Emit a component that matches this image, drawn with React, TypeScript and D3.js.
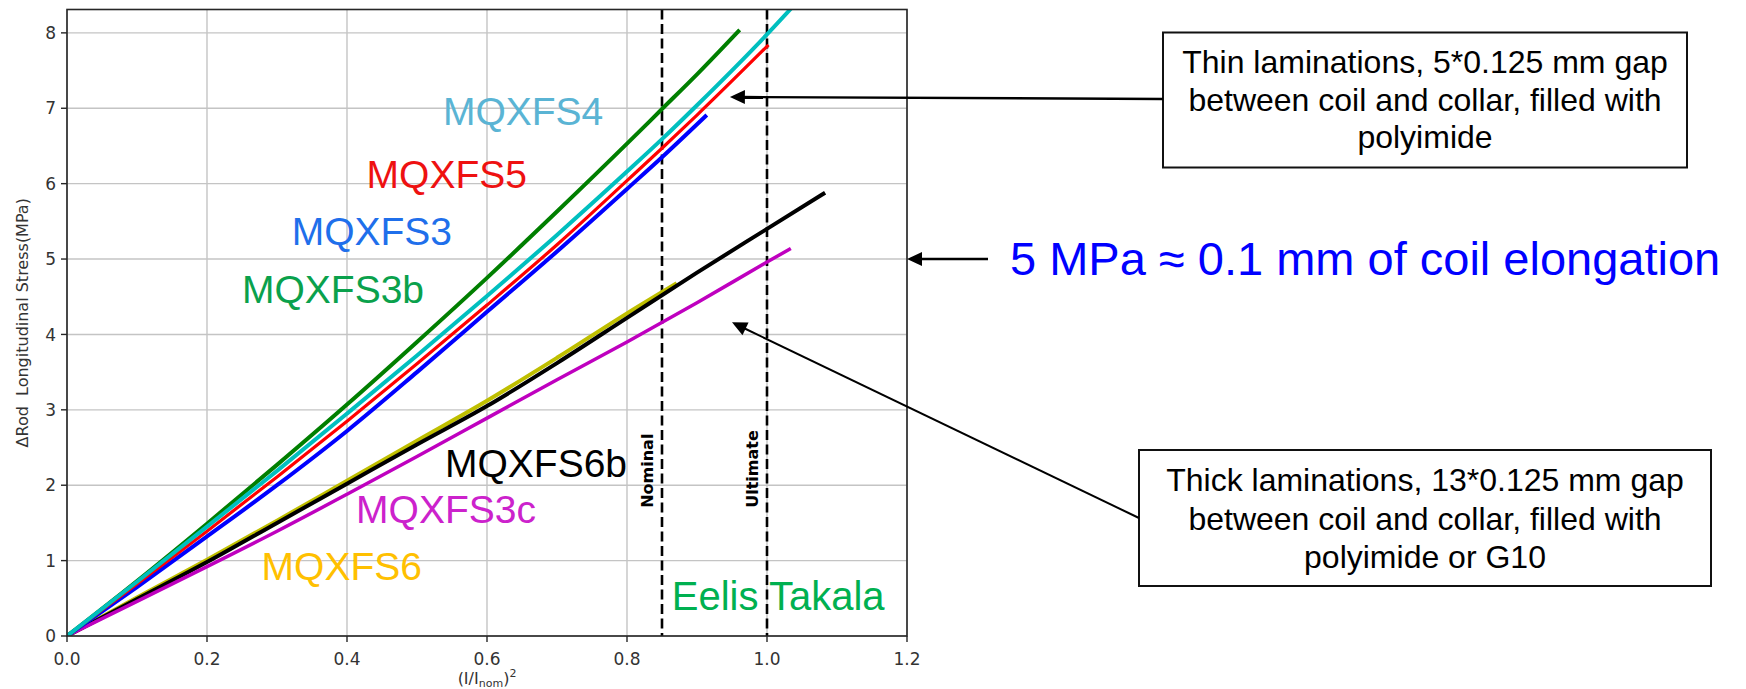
import * as d3 from "d3";

// ---- data ----
const xTicks = [0, 0.2, 0.4, 0.6, 0.8, 1.0, 1.2];
const yTicks = [0, 1, 2, 3, 4, 5, 6, 7, 8];

const s3bX = [0, 0.1, 0.2, 0.3, 0.4, 0.5, 0.6, 0.7, 0.8, 0.85, 0.9, 0.961];
const s3bY = [0, 0.73, 1.49, 2.27, 3.07, 3.9, 4.75, 5.63, 6.53, 6.99, 7.45, 8.04];

const s4X = [0, 0.1, 0.2, 0.3, 0.4, 0.5, 0.6, 0.7, 0.8, 0.85, 0.9, 1.0, 1.04];
const s4Y = [0, 0.72, 1.45, 2.19, 2.95, 3.72, 4.51, 5.32, 6.16, 6.59, 7.04, 7.98, 8.38];

const s5X = [0, 0.1, 0.2, 0.3, 0.4, 0.5, 0.6, 0.7, 0.8, 0.85, 0.9, 1.002];
const s5Y = [0, 0.69, 1.39, 2.11, 2.85, 3.61, 4.39, 5.19, 6.04, 6.47, 6.91, 7.84];

const s3X = [0, 0.1, 0.2, 0.3, 0.4, 0.5, 0.6, 0.7, 0.8, 0.85, 0.914];
const s3Y = [0, 0.65, 1.32, 2.0, 2.72, 3.5, 4.3, 5.1, 5.93, 6.35, 6.91];

const s6X = [0, 0.1, 0.2, 0.3, 0.4, 0.5, 0.6, 0.7, 0.8, 0.871];
const s6Y = [0, 0.51, 1.01, 1.53, 2.06, 2.59, 3.12, 3.69, 4.28, 4.68];

const s6bX = [0, 0.1, 0.2, 0.3, 0.4, 0.5, 0.6, 0.7, 0.8, 0.9, 1.0, 1.083];
const s6bY = [0, 0.49, 0.98, 1.5, 2.02, 2.54, 3.05, 3.62, 4.22, 4.82, 5.4, 5.88];

const s3cX = [0, 0.1, 0.2, 0.3, 0.4, 0.5, 0.6, 0.7, 0.8, 0.9, 1.0, 1.034];
const s3cY = [0, 0.46, 0.92, 1.39, 1.88, 2.38, 2.89, 3.4, 3.9, 4.42, 4.96, 5.14];

// label text + where it sits (data units)
const labelNames = ["MQXFS4", "MQXFS5", "MQXFS3", "MQXFS3b", "MQXFS6b", "MQXFS3c", "MQXFS6"];
const labelX = [0.537, 0.428, 0.321, 0.25, 0.54, 0.413, 0.278];
const labelY = [6.78, 5.94, 5.19, 4.42, 2.11, 1.5, 0.74];
const labelColors = ["#5ab4d4", "#ee1111", "#1f6feb", "#0aa14c", "#000000", "#cc22cc", "#ffc000"];

const markerX = [0.85, 1.0];
const markerNames = ["Nominal", "Ultimate"];

const box1Lines = ["Thin laminations, 5*0.125 mm gap", "between coil and collar, filled with", "polyimide"];
const box2Lines = ["Thick laminations, 13*0.125 mm gap", "between coil and collar, filled with", "polyimide or G10"];

const W = 1746, H = 689;
const plot = { left: 67, right: 907, top: 9.5, bottom: 636 };

const x = d3.scaleLinear().domain([0, 1.2]).range([plot.left, plot.right]);
const y = d3.scaleLinear().domain([0, 8.31]).range([plot.bottom, plot.top]);

const series = [
  { xs: s6X, ys: s6Y, color: "#bfbf00", w: 4 },
  { xs: s6bX, ys: s6bY, color: "#000000", w: 4 },
  { xs: s3cX, ys: s3cY, color: "#bf00bf", w: 3.5 },
  { xs: s3X, ys: s3Y, color: "#0000ff", w: 4 },
  { xs: s5X, ys: s5Y, color: "#ff0000", w: 3.2 },
  { xs: s3bX, ys: s3bY, color: "#007f00", w: 4 },
  { xs: s4X, ys: s4Y, color: "#00bfbf", w: 4 },
];

const line = d3.line<number[]>().x(d => x(d[0])).y(d => y(d[1])).curve(d3.curveMonotoneX);

function Arrow({ x1, y1, x2, y2, sw = 2.4 }: any) {
  const a = Math.atan2(y2 - y1, x2 - x1);
  const len = 15, half = 7;
  const bx = x2 - len * Math.cos(a), by = y2 - len * Math.sin(a);
  const p = [
    [x2, y2],
    [bx + half * Math.sin(a), by - half * Math.cos(a)],
    [bx - half * Math.sin(a), by + half * Math.cos(a)],
  ];
  return (
    <g>
      <line x1={x1} y1={y1} x2={bx + 2 * Math.cos(a)} y2={by + 2 * Math.sin(a)} stroke="#000" strokeWidth={sw} />
      <polygon points={p.map(q => q.join(",")).join(" ")} fill="#000" />
    </g>
  );
}

export default function App() {
  const sans = "'DejaVu Sans', sans-serif";
  const arial = "'Liberation Sans', Arial, sans-serif";
  return (
    <div style={{ position: "absolute", left: 0, top: 0 }}>
      <svg width={W} height={H} style={{ display: "block", background: "#fff" }}>
        <defs>
          <clipPath id="plotclip">
            <rect x={plot.left} y={plot.top} width={plot.right - plot.left} height={plot.bottom - plot.top} />
          </clipPath>
        </defs>

        {/* grid */}
        {xTicks.map(t => (
          <line key={"gx" + t} x1={x(t)} x2={x(t)} y1={plot.top} y2={plot.bottom} stroke="#c4c4c4" strokeWidth={1.4} />
        ))}
        {yTicks.map(t => (
          <line key={"gy" + t} x1={plot.left} x2={plot.right} y1={y(t)} y2={y(t)} stroke="#c4c4c4" strokeWidth={1.4} />
        ))}

        {/* nominal / ultimate */}
        {markerX.map((m, i) => (
          <g key={"m" + i}>
            <line x1={x(m)} x2={x(m)} y1={plot.top} y2={plot.bottom} stroke="#000" strokeWidth={2.6} strokeDasharray="10,4.5" />
            <text transform={`translate(${x(m) - 9},${y(1.7)}) rotate(-90)`} fontFamily={sans} fontWeight="bold" fontSize={16} fill="#000">
              {markerNames[i]}
            </text>
          </g>
        ))}

        {/* curves */}
        <g clipPath="url(#plotclip)">
          {series.map((s, i) => (
            <path key={"s" + i} d={line(s.xs.map((v, j) => [v, s.ys[j]])) || ""} fill="none" stroke={s.color} strokeWidth={s.w} strokeLinecap="butt" strokeLinejoin="round" />
          ))}
        </g>

        {/* spines */}
        <rect x={plot.left} y={plot.top} width={plot.right - plot.left} height={plot.bottom - plot.top} fill="none" stroke="#262626" strokeWidth={1.6} />

        {/* ticks */}
        {xTicks.map(t => (
          <g key={"tx" + t}>
            <line x1={x(t)} x2={x(t)} y1={plot.bottom} y2={plot.bottom + 6} stroke="#262626" strokeWidth={1.4} />
            <text x={x(t)} y={plot.bottom + 29} textAnchor="middle" fontFamily={sans} fontSize={17} fill="#333">{t.toFixed(1)}</text>
          </g>
        ))}
        {yTicks.map(t => (
          <g key={"ty" + t}>
            <line x1={plot.left - 6} x2={plot.left} y1={y(t)} y2={y(t)} stroke="#262626" strokeWidth={1.4} />
            <text x={plot.left - 11} y={y(t)} dy="0.36em" textAnchor="end" fontFamily={sans} fontSize={17} fill="#333">{t}</text>
          </g>
        ))}

        {/* axis labels */}
        <text transform={`translate(22,${(plot.top + plot.bottom) / 2}) rotate(-90)`} textAnchor="middle" dy="0.35em" fontFamily={sans} fontSize={16} fill="#333" style={{ whiteSpace: "pre" }}>
          {"ΔRod  Longitudinal Stress(MPa)"}
        </text>
        <text x={(plot.left + plot.right) / 2} y={684} textAnchor="middle" fontFamily={sans} fontSize={16} fill="#333">
          (I/I<tspan fontSize={11} dy={3}>nom</tspan><tspan dy={-3}>)</tspan><tspan fontSize={11} dy={-7}>2</tspan>
        </text>

        {/* series labels */}
        {labelNames.map((n, i) => (
          <text key={n} x={x(labelX[i])} y={y(labelY[i])} fontFamily={arial} fontSize={39} fill={labelColors[i]}>{n}</text>
        ))}
        <text x={x(0.864)} y={y(0.34)} fontFamily={arial} fontSize={40} fill="#00b050">Eelis Takala</text>

        {/* annotations */}
        <rect x={1163} y={32.5} width={524} height={135} fill="#fff" stroke="#111" strokeWidth={2} />
        {box1Lines.map((l, i) => (
          <text key={"b1" + i} x={1425} y={72.7 + i * 37.8} textAnchor="middle" fontFamily={arial} fontSize={32} fill="#000">{l}</text>
        ))}
        <Arrow x1={1163} y1={99} x2={x(0.947)} y2={y(7.15)} />

        <rect x={1139} y={450} width={572} height={136} fill="#fff" stroke="#111" strokeWidth={2} />
        {box2Lines.map((l, i) => (
          <text key={"b2" + i} x={1425} y={490.7 + i * 38.8} textAnchor="middle" fontFamily={arial} fontSize={32} fill="#000">{l}</text>
        ))}
        <Arrow x1={1139} y1={518} x2={x(0.95)} y2={y(4.16)} sw={2} />

        <Arrow x1={988} y1={y(5)} x2={x(1.2)} y2={y(5)} sw={2.6} />
        <text x={1010} y={275} fontFamily={arial} fontSize={47} fill="#0000ff">5 MPa ≈ 0.1 mm of coil elongation</text>
      </svg>
    </div>
  );
}
